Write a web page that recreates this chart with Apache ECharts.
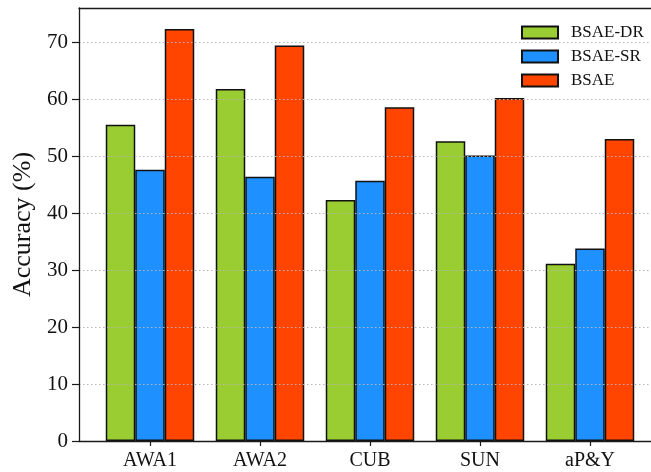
<!DOCTYPE html>
<html>
<head>
<meta charset="utf-8">
<script src="https://cdn.jsdelivr.net/npm/echarts@6/dist/echarts.min.js"></script>
<style>
  html, body { margin: 0; padding: 0; background: #fff; }
  #chart { width: 651px; height: 472px; }
</style>
</head>
<body>
<div id="chart"></div>
<script>
// Datasets on the x axis
const categories = ['AWA1', 'AWA2', 'CUB', 'SUN', 'aP&Y'];

// Accuracy (%) per method
const seriesNames = ['BSAE-DR', 'BSAE-SR', 'BSAE'];
const bsaeDR = [55.5, 61.8, 42.3, 52.6, 31.1];
const bsaeSR = [47.6, 46.4, 45.7, 50.1, 33.8];
const bsae   = [72.3, 69.4, 58.6, 60.2, 53.0];

// Y axis tick labels
const yTicks = [0, 10, 20, 30, 40, 50, 60, 70];

const colors = ['#9ACD32', '#1E90FF', '#FF4500'];
const serif = 'Liberation Serif';
const ink = '#1a1a1a';
const yMax = 76;

const chart = echarts.init(document.getElementById('chart'), null, { renderer: 'canvas' });

const values = [bsaeDR, bsaeSR, bsae];

// plain spine (line only) for the frame grid
const spine = (position) => ({
  gridIndex: 0,
  type: 'value',
  min: 0,
  max: 1,
  position: position,
  axisLine: { show: true, onZero: false, lineStyle: { color: ink, width: 1.3 } },
  axisTick: { show: false },
  axisLabel: { show: false },
  splitLine: { show: false },
  z: 5
});

chart.setOption({
  animation: false,
  backgroundColor: '#fff',
  textStyle: { fontFamily: serif },
  legend: {
    orient: 'vertical',
    left: 516,
    top: 19,
    icon: 'rect',
    itemWidth: 36,
    itemHeight: 12,
    itemGap: 7,
    data: seriesNames,
    textStyle: { fontFamily: serif, fontSize: 17, color: '#111', padding: [0, 0, 0, 8] }
  },
  grid: [
    // frame with spines, ticks and dotted grid lines
    { left: 79, top: 8, right: -12, bottom: 31 },
    // grid holding the grouped bars
    { left: 95, top: 8, right: 6, bottom: 31 }
  ],
  xAxis: [
    spine('bottom'),
    spine('top'),
    {
      gridIndex: 1,
      type: 'category',
      data: categories,
      boundaryGap: true,
      axisLine: { show: false },
      axisTick: { show: true, alignWithLabel: true, length: 5, lineStyle: { color: ink, width: 1.2 } },
      axisLabel: { fontFamily: serif, fontSize: 20, color: '#111', margin: 10 },
      splitLine: { show: false }
    }
  ],
  yAxis: [
    {
      gridIndex: 0,
      type: 'value',
      min: 0,
      max: yMax,
      interval: 10,
      name: 'Accuracy (%)',
      nameLocation: 'middle',
      nameGap: 41,
      nameTextStyle: { fontFamily: serif, fontSize: 26, color: '#111' },
      axisLine: { show: true, lineStyle: { color: ink, width: 1.3 } },
      axisTick: { show: true, length: 7, customValues: yTicks, lineStyle: { color: ink, width: 1.2 } },
      axisLabel: { fontFamily: serif, fontSize: 21, color: '#111', margin: 11, customValues: yTicks },
      splitLine: { show: true, lineStyle: { color: '#b5b5b5', width: 1, type: [1.5, 2.5] } },
      z: 5
    },
    { gridIndex: 1, type: 'value', min: 0, max: yMax, show: false, splitLine: { show: false } }
  ],
  series: seriesNames.map((name, i) => ({
    name: name,
    type: 'bar',
    xAxisIndex: 2,
    yAxisIndex: 1,
    data: values[i],
    barWidth: 29.5,
    barGap: '0%',
    itemStyle: { color: colors[i], borderColor: '#111', borderWidth: 1.5 }
  }))
});
</script>
</body>
</html>
